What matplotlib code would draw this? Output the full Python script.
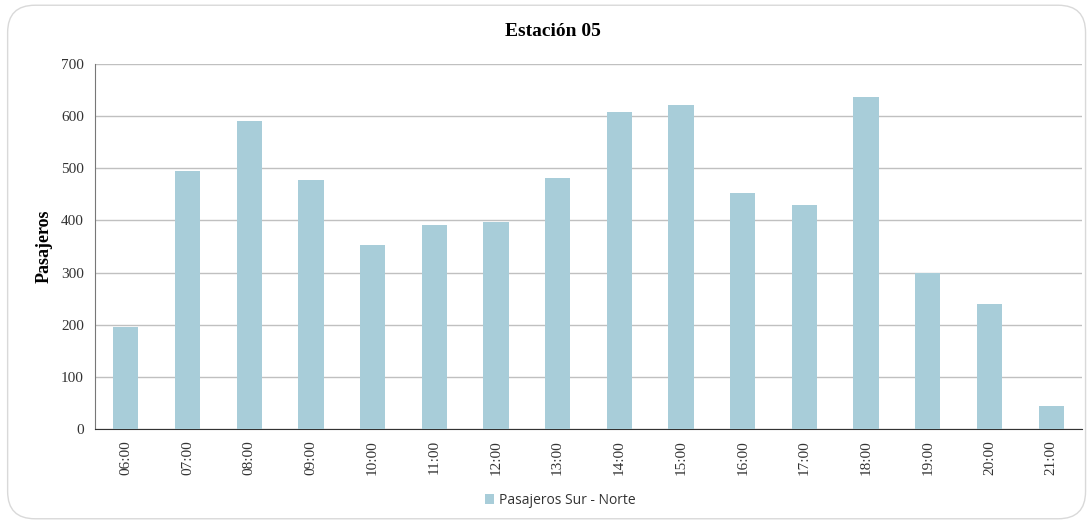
import matplotlib.pyplot as plt
from matplotlib.patches import FancyBboxPatch

horas = ["06:00", "07:00", "08:00", "09:00", "10:00", "11:00", "12:00", "13:00",
         "14:00", "15:00", "16:00", "17:00", "18:00", "19:00", "20:00", "21:00"]
pasajeros = [196, 495, 591, 477, 353, 391, 397, 482, 607, 621, 452, 430, 636, 300, 240, 44]

fig = plt.figure(figsize=(10.91, 5.24), dpi=100)
marco = FancyBboxPatch((0.007, 0.01), 0.988, 0.98, boxstyle="round,pad=0,rounding_size=0.025",
                       transform=fig.transFigure, facecolor="white",
                       edgecolor="#d9d9d9", linewidth=1.0, mutation_aspect=2.08, zorder=-10)
fig.patches.append(marco)
ax = fig.add_axes([95 / 1091, 1 - 429 / 524, (1082 - 95) / 1091, (429 - 64) / 524])
ax.set_facecolor("none")
ax.set_zorder(5)

x = range(len(horas))
ax.bar(x, pasajeros, width=0.41, color="#a8cdd9", label="Pasajeros Sur - Norte", zorder=3)

ax.set_xlim(-0.5, len(horas) - 0.5)
ax.set_ylim(0, 700)
ax.set_yticks(range(0, 701, 100))
ax.set_xticks(list(x))
ax.set_xticklabels(horas, rotation=90, family="Liberation Serif", fontsize=11, color="#333333")
for lbl in ax.get_yticklabels():
    lbl.set_family("Liberation Serif")
    lbl.set_fontsize(11)
    lbl.set_color("#333333")
ax.tick_params(length=0, pad=8)
ax.grid(axis="y", color="#c0c0c0", linewidth=1, zorder=0)
for s in ["top", "right"]:
    ax.spines[s].set_visible(False)
ax.spines["left"].set_color("#777777")
ax.spines["bottom"].set_color("#333333")

ax.set_ylabel("Pasajeros", family="Liberation Serif", fontweight="bold", fontsize=13, labelpad=6)
fig.text(553 / 1091, 1 - 31 / 524, "Estación 05", ha="center", va="center",
         family="Liberation Serif", fontweight="bold", fontsize=14)

fig.legend(loc="center", bbox_to_anchor=(560 / 1091, 1 - 500 / 524), frameon=False,
           prop={"family": "Open Sans", "size": 10}, handlelength=0.7, handleheight=0.7,
           handletextpad=0.3, labelcolor="#333333")

fig.savefig("out.png", dpi=100)
